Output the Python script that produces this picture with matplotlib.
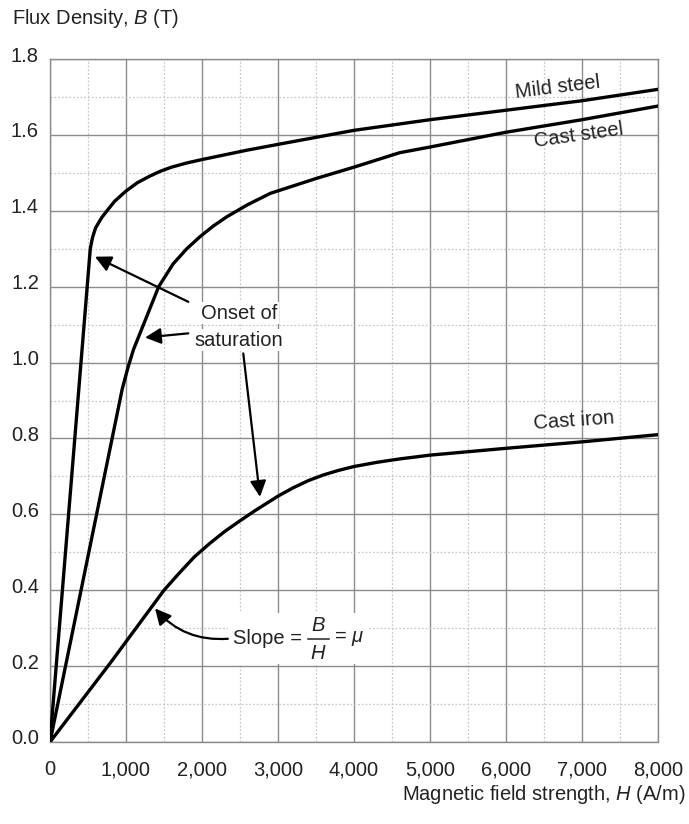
import matplotlib.pyplot as plt
import matplotlib.transforms as mtransforms
from matplotlib.patches import Rectangle
from matplotlib.ticker import MultipleLocator, FuncFormatter

plt.rcParams['font.family'] = ['Liberation Sans', 'DejaVu Sans']
plt.rcParams['mathtext.fontset'] = 'custom'
plt.rcParams['mathtext.rm'] = 'Liberation Sans'
plt.rcParams['mathtext.it'] = 'Liberation Sans:italic'
plt.rcParams['mathtext.bf'] = 'Liberation Sans:bold'

# B-H curves (H in A/m, B in T)
mild_h = [0, 530, 560, 600, 680, 750, 850, 1000, 1150, 1300, 1450, 1600, 1800, 2000,
          2600, 3000, 4000, 5000, 6000, 7000, 8000]
mild_b = [0, 1.30, 1.33, 1.355, 1.382, 1.40, 1.425, 1.452, 1.474, 1.49, 1.504, 1.515, 1.526, 1.535,
          1.56, 1.575, 1.612, 1.64, 1.665, 1.69, 1.72]

cast_steel_h = [0, 950, 1030, 1100, 1200, 1300, 1430, 1620, 1800, 1975, 2150, 2325, 2600, 2900,
                3500, 4000, 4600, 5000, 6000, 7000, 8000]
cast_steel_b = [0, 0.93, 0.99, 1.035, 1.085, 1.135, 1.20, 1.26, 1.30, 1.332, 1.36, 1.384, 1.416, 1.446,
                1.485, 1.515, 1.553, 1.568, 1.607, 1.64, 1.676]

cast_iron_h = [0, 800, 1500, 1700, 1900, 2100, 2300, 2500, 2700, 3000, 3200, 3400, 3600, 3800,
               4000, 4300, 4600, 5000, 6000, 7000, 8000]
cast_iron_b = [0, 0.21, 0.40, 0.445, 0.488, 0.523, 0.555, 0.583, 0.61, 0.648, 0.67, 0.689, 0.704, 0.716,
               0.726, 0.737, 0.746, 0.756, 0.774, 0.791, 0.81]

fs = 14.5
ink = '#222222'
fig = plt.figure(figsize=(6.89, 8.24), dpi=100)
ax = fig.add_axes([50 / 689, 1 - 742 / 824, 608 / 689, 683 / 824])

for h, b in [(mild_h, mild_b), (cast_steel_h, cast_steel_b), (cast_iron_h, cast_iron_b)]:
    ax.plot(h, b, color='black', lw=2.4, solid_joinstyle='round', solid_capstyle='round', zorder=3)

ax.set_xlim(0, 8000)
ax.set_ylim(0, 1.8)
ax.xaxis.set_major_locator(MultipleLocator(1000))
ax.xaxis.set_minor_locator(MultipleLocator(500))
ax.yaxis.set_major_locator(MultipleLocator(0.2))
ax.yaxis.set_minor_locator(MultipleLocator(0.1))
ax.xaxis.set_major_formatter(FuncFormatter(lambda v, p: f"{int(v):,}"))
ax.yaxis.set_major_formatter(FuncFormatter(lambda v, p: f"{v:.1f}"))
ax.grid(which='major', color='#8c8c8c', lw=1.0, ls='-')
ax.grid(which='minor', color='#c8c8c8', lw=0.9, ls=(0, (1.5, 1.5)))
ax.tick_params(which='both', length=0, labelsize=fs, colors=ink)
ax.tick_params(axis='x', pad=13)
ax.tick_params(axis='y', pad=8)
for s in ax.spines.values():
    s.set_color('#8c8c8c')
    s.set_linewidth(1.0)

# nudge y tick labels up a little, as in the original
off = mtransforms.ScaledTranslation(0, 5 / 100, fig.dpi_scale_trans)
for lab in ax.get_yticklabels():
    lab.set_transform(lab.get_transform() + off)

fig.text(12 / 689, 1 - 18 / 824, r"Flux Density, $B$ (T)", fontsize=fs, ha='left', va='center', color=ink)
fig.text(686 / 689, 1 - 795 / 824, r"Magnetic field strength, $H$ (A/m)", fontsize=fs, ha='right', va='center', color=ink)

# curve labels
ax.text(6684, 1.726, "Mild steel", fontsize=fs, rotation=7, ha='center', va='center', color=ink)
ax.text(6961, 1.599, "Cast steel", fontsize=fs, rotation=8, ha='center', va='center', color=ink)
ax.text(6888, 0.848, "Cast iron", fontsize=fs, rotation=4, ha='center', va='center', color=ink)

# onset of saturation
arrow = dict(arrowstyle='-|>', color='black', lw=1.6, mutation_scale=24, shrinkA=0, shrinkB=0)
white = dict(facecolor='white', edgecolor='none', pad=1)
ax.text(2487, 1.130, "Onset of", fontsize=fs, ha='center', va='center', color=ink, bbox=white, zorder=4)
ax.text(2487, 1.059, "saturation", fontsize=fs, ha='center', va='center', color=ink, bbox=white, zorder=4)
ax.annotate("", xy=(592, 1.279), xytext=(1820, 1.160), arrowprops=arrow, zorder=5)
ax.annotate("", xy=(1250, 1.066), xytext=(1820, 1.077), arrowprops=arrow, zorder=5)
ax.annotate("", xy=(2763, 0.646), xytext=(2543, 1.024), arrowprops=arrow, zorder=5)

# slope = B/H = mu, built from pieces so the fraction is full size
ax.add_patch(Rectangle((2340, 0.205), 1840, 0.135, facecolor='white', edgecolor='none', zorder=2.5))
ax.text(2408, 0.274, "Slope =", fontsize=fs, ha='left', va='center', color=ink, zorder=4)
ax.text(3526, 0.306, r"$B$", fontsize=fs, ha='center', va='center', color=ink, zorder=4)
ax.text(3526, 0.233, r"$H$", fontsize=fs, ha='center', va='center', color=ink, zorder=4)
ax.plot([3395, 3671], [0.2714, 0.2714], color=ink, lw=1.1, zorder=4)
ax.text(3737, 0.274, r"= $\mu$", fontsize=fs, ha='left', va='center', color=ink, zorder=4)
ax.annotate("", xy=(1382, 0.352), xytext=(2340, 0.272),
            arrowprops=dict(arrow, connectionstyle='arc3,rad=-0.25'), zorder=5)

fig.savefig('out.png', dpi=100)
